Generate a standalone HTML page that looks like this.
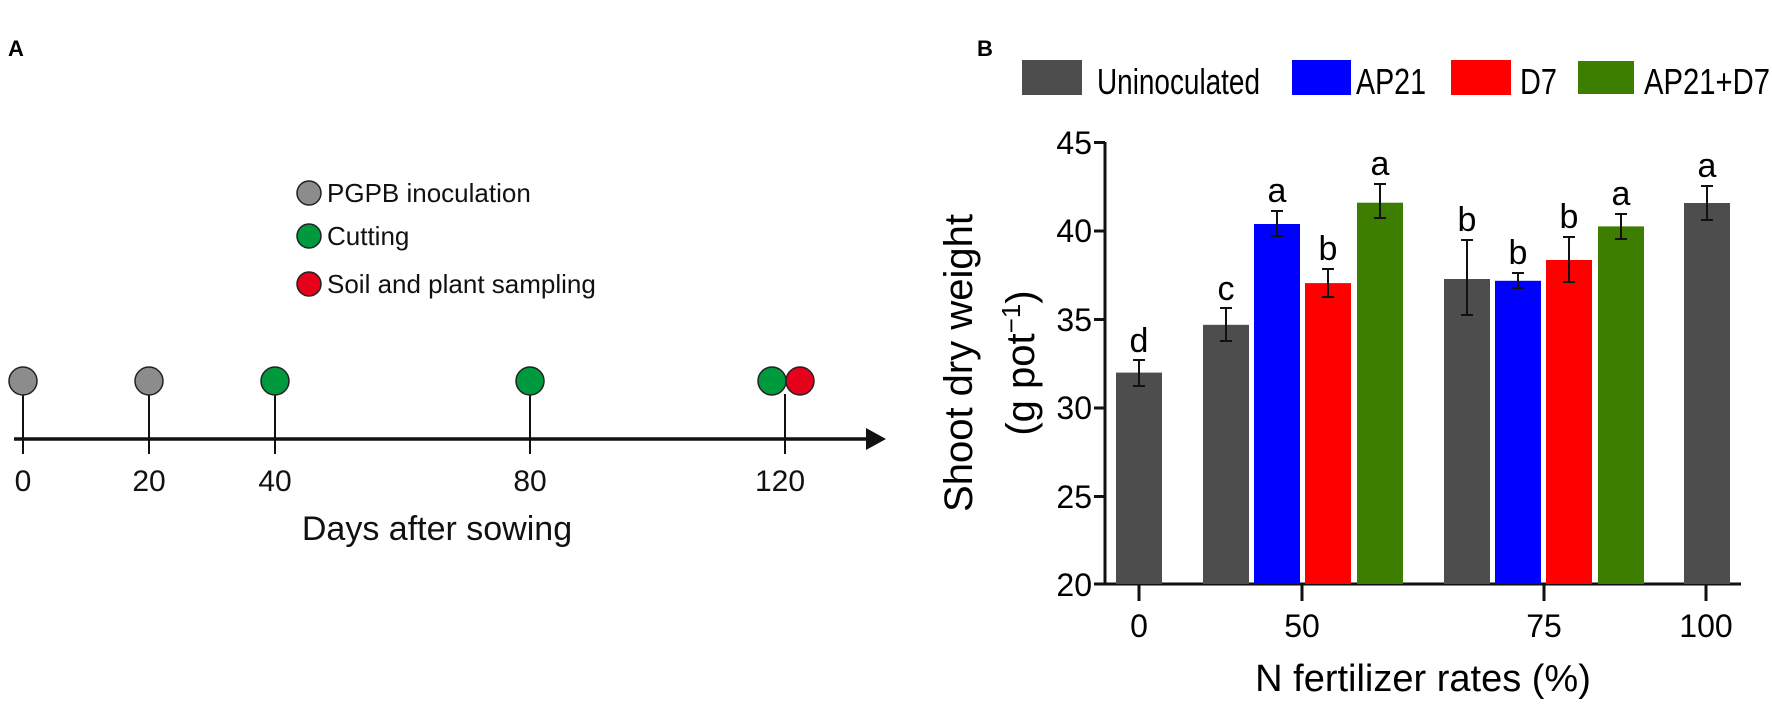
<!DOCTYPE html>
<html><head><meta charset="utf-8"><style>
html,body{margin:0;padding:0;background:#fff;}
svg{display:block;font-family:"Liberation Sans",Arial,sans-serif;}
</style></head><body>
<svg width="1772" height="704" viewBox="0 0 1772 704" xmlns="http://www.w3.org/2000/svg">
<!-- Panel A -->
<text x="8" y="56" font-size="22" font-weight="bold">A</text>
<circle cx="309" cy="193" r="12" fill="#8c8c8c" stroke="#222" stroke-width="1.5"/>
<text x="327" y="202" font-size="26" fill="#111">PGPB inoculation</text>
<circle cx="309" cy="236" r="12" fill="#009a3e" stroke="#222" stroke-width="1.5"/>
<text x="327" y="245" font-size="26" fill="#111">Cutting</text>
<circle cx="309" cy="284" r="12" fill="#e5001b" stroke="#222" stroke-width="1.5"/>
<text x="327" y="293" font-size="26" fill="#111">Soil and plant sampling</text>

<line x1="14" y1="439" x2="872" y2="439" stroke="#111" stroke-width="3.5"/>
<polygon points="866,428 886,439 866,450" fill="#111"/>
<g stroke="#111" stroke-width="2">
<line x1="23" y1="394" x2="23" y2="454"/>
<line x1="149" y1="394" x2="149" y2="454"/>
<line x1="275" y1="394" x2="275" y2="454"/>
<line x1="530" y1="394" x2="530" y2="454"/>
<line x1="785" y1="394" x2="785" y2="454"/>
</g>
<g stroke="#222" stroke-width="1.5">
<circle cx="23" cy="381" r="14" fill="#8c8c8c"/>
<circle cx="149" cy="381" r="14" fill="#8c8c8c"/>
<circle cx="275" cy="381" r="14" fill="#009a3e"/>
<circle cx="530" cy="381" r="14" fill="#009a3e"/>
<circle cx="772" cy="381" r="14" fill="#009a3e"/>
<circle cx="800" cy="381" r="14" fill="#e5001b"/>
</g>
<g font-size="30" text-anchor="middle" fill="#111">
<text x="23" y="491">0</text>
<text x="149" y="491">20</text>
<text x="275" y="491">40</text>
<text x="530" y="491">80</text>
<text x="780" y="491">120</text>
<text x="437" y="540" font-size="34">Days after sowing</text>
</g>

<!-- Panel B -->
<text x="977" y="56" font-size="22" font-weight="bold">B</text>
<!-- legend -->
<rect x="1022" y="60" width="60" height="35" fill="#4d4d4d"/>
<text x="1097" y="94" font-size="36" textLength="163" lengthAdjust="spacingAndGlyphs">Uninoculated</text>
<rect x="1292" y="60" width="59" height="35" fill="#0000ff"/>
<text x="1356" y="94" font-size="36" textLength="70" lengthAdjust="spacingAndGlyphs">AP21</text>
<rect x="1451" y="60" width="60" height="35" fill="#ff0000"/>
<text x="1520" y="94" font-size="36" textLength="37" lengthAdjust="spacingAndGlyphs">D7</text>
<rect x="1578" y="61" width="56" height="33" fill="#3d7d00"/>
<text x="1644" y="94" font-size="36" textLength="126" lengthAdjust="spacingAndGlyphs">AP21+D7</text>

<!-- y axis title -->
<g transform="translate(972,363) rotate(-90)">
<text x="0" y="0" font-size="40" text-anchor="middle">Shoot dry weight</text>
</g>
<g transform="translate(1034,363) rotate(-90)">
<text x="0" y="0" font-size="40" text-anchor="middle">(g  pot<tspan font-size="26" dy="-14">−1</tspan><tspan dy="14">)</tspan></text>
</g>

<!-- axes -->
<line x1="1105" y1="142" x2="1105" y2="585" stroke="#111" stroke-width="3"/>
<line x1="1094" y1="584" x2="1741" y2="584" stroke="#111" stroke-width="3"/>
<g stroke="#111" stroke-width="3">
<line x1="1094" y1="142.5" x2="1105" y2="142.5"/>
<line x1="1094" y1="231" x2="1105" y2="231"/>
<line x1="1094" y1="319.5" x2="1105" y2="319.5"/>
<line x1="1094" y1="408" x2="1105" y2="408"/>
<line x1="1094" y1="496.5" x2="1105" y2="496.5"/>
<line x1="1139" y1="584" x2="1139" y2="601"/>
<line x1="1302" y1="584" x2="1302" y2="601"/>
<line x1="1544" y1="584" x2="1544" y2="601"/>
<line x1="1706" y1="584" x2="1706" y2="601"/>
</g>
<g font-size="32" text-anchor="end">
<text x="1092" y="154">45</text>
<text x="1092" y="242">40</text>
<text x="1092" y="331">35</text>
<text x="1092" y="419">30</text>
<text x="1092" y="508">25</text>
<text x="1092" y="596">20</text>
</g>
<g font-size="32" text-anchor="middle">
<text x="1139" y="637">0</text>
<text x="1302" y="637">50</text>
<text x="1544" y="637">75</text>
<text x="1706" y="637">100</text>
<text x="1423" y="691" font-size="38">N fertilizer rates (%)</text>
</g>

<!-- bars: y(v)=585-(v-20)*17.7 -->
<g>
<rect x="1116" y="372.6" width="46" height="211.4" fill="#4d4d4d"/>
<rect x="1203" y="324.8" width="46" height="259.2" fill="#4d4d4d"/>
<rect x="1254" y="224.0" width="46" height="360" fill="#0000ff"/>
<rect x="1305" y="283.1" width="46" height="300.9" fill="#ff0000"/>
<rect x="1357" y="202.7" width="46" height="381.3" fill="#3d7d00"/>
<rect x="1444" y="279.0" width="46" height="305" fill="#4d4d4d"/>
<rect x="1495" y="280.8" width="46" height="303.2" fill="#0000ff"/>
<rect x="1546" y="260.0" width="46" height="324" fill="#ff0000"/>
<rect x="1598" y="226.4" width="46" height="357.6" fill="#3d7d00"/>
<rect x="1684" y="203.0" width="46" height="381" fill="#4d4d4d"/>
</g>
<!-- error bars -->
<g stroke="#111" stroke-width="2">
<path d="M1139 360v26M1133 360h12M1133 386h12"/>
<path d="M1226 308v33M1220 308h12M1220 341h12"/>
<path d="M1277 211v25M1271 211h12M1271 236h12"/>
<path d="M1328 269v28M1322 269h12M1322 297h12"/>
<path d="M1380 184v34M1374 184h12M1374 218h12"/>
<path d="M1467 240v75M1461 240h12M1461 315h12"/>
<path d="M1518 273v15M1512 273h12M1512 288h12"/>
<path d="M1569 237v45M1563 237h12M1563 282h12"/>
<path d="M1621 214v25M1615 214h12M1615 239h12"/>
<path d="M1707 186v34M1701 186h12M1701 220h12"/>
</g>
<g font-size="34" text-anchor="middle">
<text x="1139" y="352">d</text>
<text x="1226" y="300">c</text>
<text x="1277" y="202">a</text>
<text x="1328" y="260">b</text>
<text x="1380" y="175">a</text>
<text x="1467" y="231">b</text>
<text x="1518" y="264">b</text>
<text x="1569" y="228">b</text>
<text x="1621" y="205">a</text>
<text x="1707" y="177">a</text>
</g>
</svg>
</body></html>
